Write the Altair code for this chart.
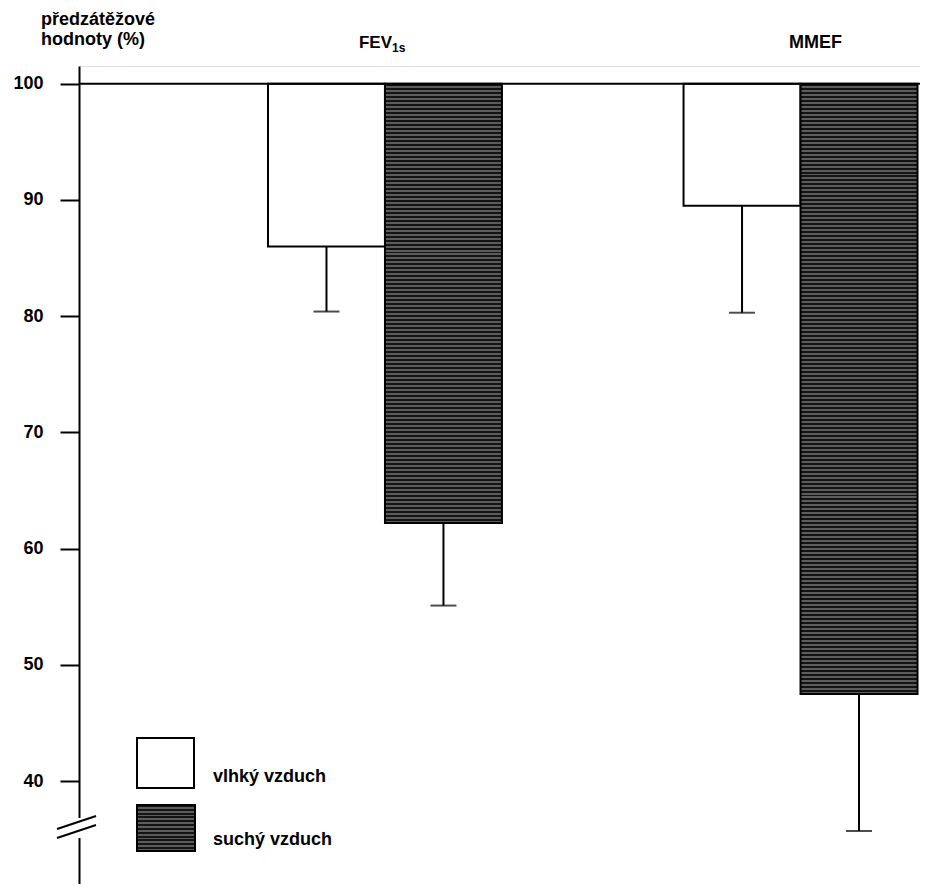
import altair as alt
import pandas as pd

# ---- data ----
groups = ["FEV1s", "MMEF"]
group_main = ["FEV", "MMEF"]
group_sub = ["1s", ""]
series = ["vlhký vzduch", "suchý vzduch"]
mean_vlhky = [86.0, 89.5]
mean_suchy = [62.2, 47.5]
low_vlhky = [80.4, 80.3]
low_suchy = [55.1, 35.7]
BASELINE = 100
y_ticks = [40, 50, 60, 70, 80, 90, 100]

rows = []
for i, g in enumerate(groups):
    rows.append({"group": g, "series": series[0], "mean": mean_vlhky[i], "low": low_vlhky[i], "base": BASELINE})
    rows.append({"group": g, "series": series[1], "mean": mean_suchy[i], "low": low_suchy[i], "base": BASELINE})
df = pd.DataFrame(rows)

FONT = "Liberation Sans"
W, H = 841, 818
YDOM = [31.14, 101.53]
PX_PER_UNIT = H / (YDOM[1] - YDOM[0])


def stripes(height_px, period=4.0, frac=0.5, dark="#141414", light="#5c5c5c"):
    n = max(1, int(round(height_px / period)))
    stops = []
    for k in range(n):
        a, b, c = k / n, (k + frac) / n, (k + 1) / n
        stops += [alt.GradientStop(offset=a, color=dark), alt.GradientStop(offset=b, color=dark),
                  alt.GradientStop(offset=b, color=light), alt.GradientStop(offset=c, color=light)]
    return alt.LinearGradient(gradient="linear", stops=stops, x1=0, x2=0, y1=0, y2=1)


xscale = alt.Scale(domain=groups, range=[189, 838.5], paddingInner=0.437, paddingOuter=0)
xoff = alt.XOffset("series:N", scale=alt.Scale(domain=series, paddingInner=0, paddingOuter=0))
yscale = alt.Scale(domain=YDOM, nice=False, zero=False)

X = alt.X("group:N", scale=xscale, axis=None)
yaxis = alt.Axis(values=y_ticks, tickSize=19, tickWidth=2, tickColor="black",
                 domainWidth=2, domainColor="black", labelFontSize=18,
                 labelFontWeight="bold", labelFont=FONT, labelColor="black",
                 labelPadding=17, title=None, grid=False)

base = alt.Chart(df)

white_bars = base.transform_filter(alt.datum.series == series[0]).mark_bar(
    fill="white", stroke="black", strokeWidth=2).encode(
    x=X, xOffset=xoff,
    y=alt.Y("base:Q", scale=yscale, axis=yaxis),
    y2="mean:Q",
)

dark_layers = []
for i, g in enumerate(groups):
    h = (BASELINE - mean_suchy[i]) * PX_PER_UNIT
    dark_layers.append(
        base.transform_filter((alt.datum.series == series[1]) & (alt.datum.group == g)).mark_bar(
            fill=stripes(h), stroke="black", strokeWidth=2).encode(
            x=X, xOffset=xoff, y=alt.Y("base:Q", scale=yscale), y2="mean:Q")
    )

err = base.mark_rule(color="black", strokeWidth=2).encode(
    x=X, xOffset=xoff, y=alt.Y("mean:Q", scale=yscale), y2="low:Q"
)
caps = base.mark_tick(color="black", thickness=2, size=26, orient="horizontal").encode(
    x=X, xOffset=xoff, y=alt.Y("low:Q", scale=yscale)
)

top_line = alt.Chart(pd.DataFrame({"v": [BASELINE]})).mark_rule(color="black", strokeWidth=2).encode(
    y=alt.Y("v:Q", scale=yscale), x=alt.value(0), x2=alt.value(W)
)

# axis break
one = pd.DataFrame({"a": [0]})
brk_gap = alt.Chart(one).mark_rule(color="white", strokeWidth=6).encode(
    x=alt.value(0), y=alt.value(752), y2=alt.value(772)
)
brk1 = alt.Chart(one).mark_rule(color="black", strokeWidth=2).encode(
    x=alt.value(-22), x2=alt.value(17), y=alt.value(763), y2=alt.value(750)
)
brk2 = alt.Chart(one).mark_rule(color="black", strokeWidth=2).encode(
    x=alt.value(-22), x2=alt.value(17), y=alt.value(772), y2=alt.value(759)
)

# y title
ytitle = alt.Chart(pd.DataFrame({"t": ["předzátěžové\nhodnoty (%)"]})).mark_text(
    font=FONT, fontSize=18, fontWeight="bold", align="left", baseline="top",
    lineBreak="\n", lineHeight=20, color="black"
).encode(text="t:N", x=alt.value(-38), y=alt.value(-55))

# group titles
gdf = pd.DataFrame({"group": groups, "main": group_main, "sub": group_sub})
t_fev = alt.Chart(gdf.iloc[[0]]).mark_text(
    font=FONT, fontSize=17, fontWeight="bold", align="right", baseline="alphabetic", dx=7, color="black"
).encode(x=X, y=alt.value(-18), text="main:N")
t_fev_sub = alt.Chart(gdf.iloc[[0]]).mark_text(
    font=FONT, fontSize=12, fontWeight="bold", align="left", baseline="alphabetic", dx=7, dy=4, color="black"
).encode(x=X, y=alt.value(-18), text="sub:N")
t_mmef = alt.Chart(gdf.iloc[[1]]).mark_text(
    font=FONT, fontSize=18, fontWeight="bold", align="center", baseline="alphabetic", dx=15, color="black"
).encode(x=X, y=alt.value(-18), text="main:N")

# legend
leg_w = alt.Chart(pd.DataFrame({"s": [series[0]]})).mark_rect(fill="white", stroke="black", strokeWidth=2).encode(
    x=alt.value(58), x2=alt.value(115), y=alt.value(672), y2=alt.value(722)
)
leg_d = alt.Chart(pd.DataFrame({"s": [series[1]]})).mark_rect(fill=stripes(46), stroke="black", strokeWidth=2).encode(
    x=alt.value(58), x2=alt.value(116), y=alt.value(739), y2=alt.value(785)
)
leg_t1 = alt.Chart(pd.DataFrame({"s": [series[0]]})).mark_text(
    font=FONT, fontSize=18, fontWeight="bold", align="left", baseline="middle", color="black"
).encode(x=alt.value(134), y=alt.value(711), text="s:N")
leg_t2 = alt.Chart(pd.DataFrame({"s": [series[1]]})).mark_text(
    font=FONT, fontSize=18, fontWeight="bold", align="left", baseline="middle", color="black"
).encode(x=alt.value(134), y=alt.value(774), text="s:N")

chart = alt.layer(
    white_bars, *dark_layers, top_line, err, caps, brk_gap, brk1, brk2, ytitle,
    t_fev, t_fev_sub, t_mmef, leg_w, leg_d, leg_t1, leg_t2
).properties(
    width=W, height=H,
    padding={"left": 71, "top": 58, "right": 0, "bottom": 0},
    autosize=alt.AutoSizeParams(type="none"),
).configure_view(stroke=None).configure(background="white")

chart.save("out.html", embed_options={"renderer": "svg", "actions": False})
